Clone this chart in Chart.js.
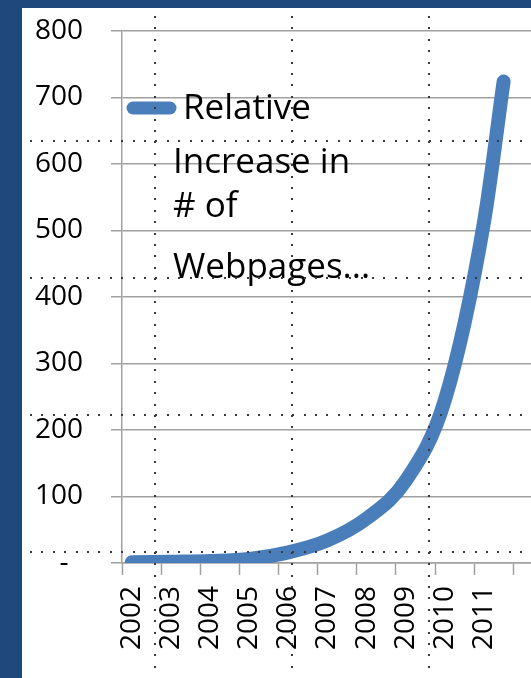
<!DOCTYPE html>
<html>
<head>
<meta charset="utf-8">
<script src="https://cdn.jsdelivr.net/npm/chart.js@4.4.1/dist/chart.umd.min.js"></script>
<style>
  html, body { margin: 0; padding: 0; background: #1F497D; overflow: hidden; }
  #panel { position: absolute; left: 22px; top: 8px; width: 509px; height: 670px; background: #fff; }
  canvas { display: block; }
</style>
</head>
<body>
<div id="panel"><canvas id="webChart" width="509" height="670"></canvas></div>
<script>
// year labels on the axis
const years = [2002, 2003, 2004, 2005, 2006, 2007, 2008, 2009, 2010, 2011];
// the series has one extra point at mid-2011
const pointYears = [2002, 2003, 2004, 2005, 2006, 2007, 2008, 2009, 2010, 2011, 2011.5];
const pageGrowth = [1, 2, 3, 6, 16, 34, 67, 124, 245, 513, 724];
const seriesLabel = 'Relative Increase in # of Webpages...';
const legendLines = ['Relative', 'Increase in', '# of', 'Webpages...'];

const gridColor = '#a0a0a0';
const lineColor = '#4A7EBB';

// tick marks sit a quarter year before each label, labels sit on the year
const tickValues = [];
years.forEach(y => { tickValues.push(y - 0.25, y); });
tickValues.push(years[years.length - 1] + 0.75);

Chart.defaults.font.family = '"Open Sans", sans-serif';

const inlineLegend = {
    id: 'inlineLegend',
    afterDatasetsDraw(chart) {
        const { ctx, chartArea } = chart;
        const ds = chart.data.datasets[0];
        ctx.save();
        ctx.strokeStyle = ds.borderColor;
        ctx.lineWidth = 13;
        ctx.lineCap = 'round';
        ctx.beginPath();
        ctx.moveTo(chartArea.left + 11, chartArea.top + 77);
        ctx.lineTo(chartArea.left + 48, chartArea.top + 77);
        ctx.stroke();
        ctx.fillStyle = '#000';
        ctx.font = '35px "Open Sans"';
        ctx.textBaseline = 'alphabetic';
        const baselines = [88, 142, 186, 247];
        legendLines.forEach((t, i) => {
            ctx.fillText(t, chartArea.left + (i === 0 ? 61 : 51), chartArea.top + baselines[i]);
        });
        ctx.restore();
    }
};

// dotted slide guides over the picture
const slideGuides = {
    id: 'slideGuides',
    afterDraw(chart) {
        const ctx = chart.ctx;
        const w = chart.width, h = chart.height;
        const step = 11.4, start = 9, gap = 136.8, first = 133.3;
        ctx.save();
        ctx.fillStyle = '#3a3a3a';
        for (let g = first; g < h; g += gap) {
            for (let x = start; x < w; x += step) ctx.fillRect(Math.round(x) - 1, Math.round(g) - 1, 2, 2);
        }
        for (let g = first; g < w; g += gap) {
            for (let y = start; y < h; y += step) ctx.fillRect(Math.round(g) - 1, Math.round(y) - 1, 2, 2);
        }
        ctx.restore();
    }
};

const ctx = document.getElementById('webChart').getContext('2d');

const chart = new Chart(ctx, {
    type: 'line',
    data: {
        datasets: [{
            label: seriesLabel,
            data: pointYears.map((x, i) => ({ x: x, y: pageGrowth[i] })),
            borderColor: lineColor,
            borderWidth: 14,
            borderCapStyle: 'round',
            borderJoinStyle: 'round',
            pointRadius: 0,
            cubicInterpolationMode: 'monotone',
            fill: false,
            clip: 0
        }]
    },
    options: {
        responsive: false,
        animation: false,
        layout: { padding: { top: 23, right: 0, bottom: 0, left: 0 } },
        plugins: {
            legend: { display: false },
            tooltip: { enabled: false }
        },
        scales: {
            x: {
                type: 'linear',
                min: 2001.75,
                max: 2012.2,
                afterBuildTicks: scale => {
                    scale.ticks = tickValues.map(v => ({ value: v }));
                },
                afterFit: scale => {
                    scale.height = 115;
                    scale.paddingLeft = 0;
                    scale.paddingRight = 0;
                },
                grid: {
                    drawOnChartArea: false,
                    tickLength: 12,
                    tickWidth: 1.5,
                    tickColor: c => (c.tick && Number.isInteger(c.tick.value)) ? 'rgba(0,0,0,0)' : gridColor
                },
                border: { color: gridColor, width: 1.5 },
                ticks: {
                    autoSkip: false,
                    minRotation: 90,
                    maxRotation: 90,
                    padding: 11,
                    color: '#000',
                    font: { size: 28 },
                    callback: v => Number.isInteger(v) ? String(v) : ''
                }
            },
            y: {
                min: 0,
                max: 800,
                afterFit: scale => {
                    scale.width = 100;
                    scale.paddingTop = 0;
                    scale.paddingBottom = 0;
                },
                grid: { color: gridColor, lineWidth: 1.5, tickLength: 11 },
                border: { color: gridColor, width: 1.5 },
                ticks: {
                    stepSize: 100,
                    padding: 28,
                    color: '#000',
                    font: { size: 28 },
                    callback: v => v === 0 ? '-  ' : v
                }
            }
        }
    },
    plugins: [inlineLegend, slideGuides]
});
</script>
</body>
</html>
